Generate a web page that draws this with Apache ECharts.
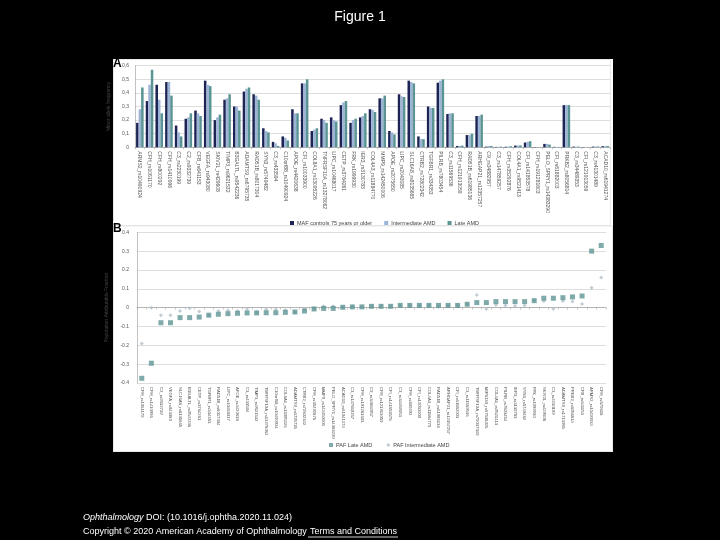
<!DOCTYPE html>
<html>
<head>
<meta charset="utf-8">
<title>Figure 1</title>
<script src="https://cdn.jsdelivr.net/npm/echarts@6/dist/echarts.min.js"></script>
<style>
html, body { margin: 0; padding: 0; background: #000; }
#container { width: 720px; height: 540px; }
</style>
</head>
<body>
<div id="container"></div>
<script>
// panel A: minor allele frequency per SNP
var snpA = ['ARMS2_rs10490924', 'CFH_rs1061170', 'CFH_rs800292', 'CFH_rs1410996', 'C3_rs2230199',
    'C2_rs9332739', 'CFB_rs641153', 'VEGFA_rs943080', 'SKIV2L_rs429608', 'TIMP3_rs9621532',
    'B3GALTL_rs9542236', 'ADAMTS9_rs6795735', 'RAD51B_rs8017304', 'SYN3_rs5749482', 'C3_rs433594',
    'C10orf88_rs10490924', 'APOE_rs4420638', 'CFI_rs10033900', 'COL8A1_rs13095226', 'TNFRSF10A_rs13278062',
    'LIPC_rs10468017', 'CETP_rs3764261', 'FRK_rs1999930', 'IER3_rs3130783', 'COL4A3_rs11884770',
    'MMP9_rs142450006', 'APOE_rs2075650', 'LIPC_rs2043085', 'SLC16A8_rs8135665', 'CTRB2_rs72802342',
    'TGFBR1_rs334353', 'PILRB_rs7803454', 'C3_rs11569536', 'CFH_rs121913059', 'RAD51B_rs61985136',
    'ARHGAP21_rs12357257', 'C9_rs34882957', 'C3_rs147859257', 'CFH_rs35292876', 'COL4A1_rs9521413',
    'CFI_rs141853578', 'CFH_rs191281603', 'PELO_SPRY1_rs14383290', 'CFI_rs61882003', 'PRKB2_rs8056814',
    'C3_rs34489353', 'CFI_rs121913059', 'C3_rs41301489', 'ACAD10_rs61941274'];
var mafControls = [0.18, 0.34, 0.46, 0.48, 0.16, 0.21, 0.27, 0.49, 0.20, 0.35,
    0.30, 0.41, 0.39, 0.14, 0.04, 0.08, 0.28, 0.47, 0.12, 0.21,
    0.22, 0.31, 0.18, 0.22, 0.28, 0.36, 0.12, 0.39, 0.49, 0.08,
    0.30, 0.475, 0.245, 0.01, 0.09, 0.23, 0.005, 0.003, 0.004, 0.013,
    0.035, 0.002, 0.025, 0.003, 0.31, 0.005, 0.002, 0.005, 0.008];
var mafIntermediate = [0.28, 0.46, 0.35, 0.48, 0.11, 0.22, 0.25, 0.46, 0.22, 0.36,
    0.30, 0.43, 0.38, 0.12, 0.03, 0.07, 0.25, 0.47, 0.13, 0.20,
    0.20, 0.33, 0.20, 0.23, 0.275, 0.36, 0.11, 0.375, 0.48, 0.06,
    0.29, 0.49, 0.25, 0.01, 0.09, 0.23, 0.01, 0.004, 0.005, 0.013,
    0.04, 0.002, 0.025, 0.003, 0.31, 0.005, 0.002, 0.006, 0.008];
var mafLate = [0.44, 0.57, 0.25, 0.38, 0.08, 0.25, 0.23, 0.45, 0.24, 0.39,
    0.27, 0.44, 0.35, 0.11, 0.01, 0.05, 0.25, 0.50, 0.14, 0.18,
    0.19, 0.34, 0.21, 0.25, 0.26, 0.38, 0.095, 0.37, 0.47, 0.06,
    0.29, 0.50, 0.25, 0.012, 0.10, 0.24, 0.01, 0.005, 0.008, 0.014,
    0.045, 0.002, 0.02, 0.003, 0.31, 0.005, 0.002, 0.006, 0.010];

// panel B: population attributable fraction, sorted
var snpB = ['CFH_rs1061170', 'CFH_rs1410996', 'C2_rs9332739', 'VEGFA_rs943080', 'SLC16A8_rs8135665',
    'B3GALTL_rs9542236', 'CETP_rs3764261', 'TGFBR1_rs334353', 'RAD51B_rs8017304', 'LIPC_rs10468017',
    'APOE_rs4420638', 'C3_rs433594', 'TIMP3_rs9621532', 'TNFRSF10A_rs13278062', 'C10orf88_rs10490924',
    'COL8A1_rs13095226', 'ADAMTS9_rs6795735', 'CTRB2_rs72802342', 'CFH_rs35292876', 'MMP9_rs142450006',
    'PELO_SPRY1_rs14383290', 'ACAD10_rs61941274', 'C3_rs147859257', 'CFH_rs191281603', 'C9_rs34882957',
    'CFH_rs121913059', 'CFI_rs141853578', 'C3_rs34489353', 'CFH_rs800292', 'CFI_rs10033900',
    'COL4A3_rs11884770', 'RAD51B_rs61985136', 'ARHGAP21_rs12357257', 'CFI_rs61882003', 'C3_rs11569536',
    'TNFRSF10A_rs79037040', 'MIR6130_rs67538026', 'COL4A1_rs9521413', 'PILRB_rs7803454', 'IER3_rs3130783',
    'SYN3_rs5749482', 'FRK_rs1999930', 'SKIV2L_rs429608', 'C3_rs2230199', 'ADAMTS9_rs1713985',
    'PRKB2_rs8056814', 'CFB_rs641153', 'ARMS2_rs10490924', 'CFH_rs570618'];
var pafLate = [-0.375, -0.295, -0.08, -0.08, -0.053, -0.053, -0.05, -0.04, -0.035, -0.032,
    -0.03, -0.028, -0.028, -0.027, -0.027, -0.025, -0.023, -0.018, -0.007, -0.004,
    -0.004, 0.002, 0.004, 0.004, 0.007, 0.007, 0.007, 0.012, 0.012, 0.012,
    0.012, 0.012, 0.012, 0.012, 0.018, 0.027, 0.027, 0.032, 0.032, 0.032,
    0.032, 0.037, 0.05, 0.05, 0.053, 0.057, 0.062, 0.30, 0.33];
var pafIntermediate = [-0.19, 0.0, -0.04, -0.04, -0.018, -0.003, -0.02, -0.04, -0.018, -0.014,
    -0.018, -0.007, -0.025, -0.009, -0.009, -0.012, -0.025, -0.007, -0.004, 0.007,
    0.007, 0.002, 0.005, 0.005, 0.007, 0.007, 0.007, 0.012, 0.012, 0.012,
    0.012, 0.003, 0.012, 0.012, 0.018, 0.067, -0.007, 0.014, 0.012, 0.009,
    0.012, 0.039, 0.034, -0.007, 0.035, 0.032, 0.02, 0.106, 0.16];

var dom = document.getElementById('container');
var myChart = echarts.init(dom);

var tickFont = { fontFamily: 'Liberation Sans', fontSize: 5, color: '#555' };
var gridLine = { lineStyle: { color: '#c8c8c8', width: 0.6 } };

var option = {
    backgroundColor: '#000',
    animation: false,
    textStyle: { fontFamily: 'Liberation Sans' },
    graphic: [
        { type: 'rect', z: -10, shape: { x: 113, y: 59, width: 500, height: 393 }, style: { fill: '#fff' } },
        { type: 'rect', z: -9, shape: { x: 113.5, y: 59.5, width: 497, height: 166 }, style: { fill: 'none', stroke: '#d9d9d9', lineWidth: 0.6 } },
        { type: 'rect', z: -9, shape: { x: 113.5, y: 226, width: 499, height: 225.5 }, style: { fill: 'none', stroke: '#d9d9d9', lineWidth: 0.6 } },
        { type: 'text', left: 'center', top: 10, style: { text: 'Figure 1', fill: '#fff', font: '14px "Liberation Sans"' } },
        { type: 'text', x: 113, y: 58, style: { text: 'A', fill: '#000', font: 'bold 12px "Liberation Sans"' } },
        { type: 'text', x: 113, y: 223, style: { text: 'B', fill: '#000', font: 'bold 12px "Liberation Sans"' } },
        { type: 'text', x: 83, y: 513, style: { text: 'Ophthalmology', fill: '#fff', font: 'italic 9px "Liberation Sans"' } },
        { type: 'text', x: 146, y: 513, style: { text: 'DOI: (10.1016/j.ophtha.2020.11.024)', fill: '#fff', font: '9px "Liberation Sans"' } },
        { type: 'text', x: 83, y: 527, style: { text: 'Copyright \u00a9 2020 American Academy of Ophthalmology', fill: '#fff', font: '9px "Liberation Sans"' } },
        { type: 'text', x: 310, y: 527, style: { text: 'Terms and Conditions', fill: '#fff', font: '9px "Liberation Sans"' } },
        { type: 'line', shape: { x1: 308, y1: 537, x2: 398, y2: 537 }, style: { stroke: '#fff', lineWidth: 0.8 } }
    ],
    legend: [{
        left: 285, top: 215,
        itemWidth: 4, itemHeight: 4, itemGap: 12, icon: 'rect',
        textStyle: { fontSize: 5.5, color: '#444', padding: [0, 0, 0, -2] },
        data: ['MAF controls 75 years or older', 'Intermediate AMD', 'Late AMD']
    }, {
        left: 324, top: 437,
        itemWidth: 4, itemHeight: 4, itemGap: 14,
        textStyle: { fontSize: 5.5, color: '#444', padding: [0, 0, 0, -2] },
        data: [{ name: 'PAF Late AMD', icon: 'rect' }, { name: 'PAF Intermediate AMD', icon: 'diamond' }]
    }],
    grid: [
        { left: 135, top: 65.7, width: 475, height: 81.6 },
        { left: 137, top: 232.3, width: 469, height: 150.7 }
    ],
    xAxis: [{
        type: 'category', gridIndex: 0, data: snpA,
        axisLine: { lineStyle: { color: '#999', width: 0.6 } },
        axisTick: { show: true, length: 2, lineStyle: { color: '#999', width: 0.5 } },
        axisLabel: Object.assign({ interval: 0, rotate: -90, margin: 4 }, tickFont)
    }, {
        type: 'category', gridIndex: 1, data: snpB,
        axisLine: { lineStyle: { color: '#999', width: 0.6 } },
        axisTick: { show: true, length: 2, lineStyle: { color: '#999', width: 0.5 } },
        axisLabel: Object.assign({}, tickFont, { interval: 0, rotate: -90, margin: 4, fontSize: 4.2 })
    }],
    yAxis: [{
        type: 'value', gridIndex: 0, min: 0, max: 0.6, interval: 0.1,
        name: 'Minor allele frequency', nameLocation: 'middle', nameGap: 13,
        nameTextStyle: { fontSize: 5, color: '#444' },
        axisLine: { show: true, lineStyle: { color: '#999', width: 0.6 } },
        splitLine: gridLine,
        axisLabel: Object.assign({
            margin: 6,
            formatter: function (v) { return v === 0 ? '0' : v.toFixed(1).replace('.', ','); }
        }, tickFont)
    }, {
        type: 'value', gridIndex: 1, min: -0.4, max: 0.4, interval: 0.1,
        name: 'Population Attributable Fraction', nameLocation: 'middle', nameGap: 14,
        nameTextStyle: { fontSize: 5, color: '#444' },
        axisLine: { show: true, lineStyle: { color: '#999', width: 0.6 } },
        splitLine: gridLine,
        axisLabel: Object.assign({
            margin: 8,
            formatter: function (v) { var r = Math.round(v * 10) / 10; return r === 0 ? '0' : r.toFixed(1); }
        }, tickFont)
    }],
    series: [{
        name: 'MAF controls 75 years or older', type: 'bar',
        xAxisIndex: 0, yAxisIndex: 0, data: mafControls,
        itemStyle: { color: '#1d2453' }, barGap: '0%', barCategoryGap: '22%'
    }, {
        name: 'Intermediate AMD', type: 'bar',
        xAxisIndex: 0, yAxisIndex: 0, data: mafIntermediate,
        itemStyle: { color: '#9cb4d6' }, barGap: '0%', barCategoryGap: '22%'
    }, {
        name: 'Late AMD', type: 'bar',
        xAxisIndex: 0, yAxisIndex: 0, data: mafLate,
        itemStyle: { color: '#5b9494' }, barGap: '0%', barCategoryGap: '22%'
    }, {
        name: 'PAF Late AMD', type: 'scatter',
        xAxisIndex: 1, yAxisIndex: 1, data: pafLate,
        symbol: 'rect', symbolSize: 5, z: 3,
        itemStyle: { color: '#5e9593' }
    }, {
        name: 'PAF Intermediate AMD', type: 'scatter',
        xAxisIndex: 1, yAxisIndex: 1, data: pafIntermediate,
        symbol: 'diamond', symbolSize: 4, z: 2,
        itemStyle: { color: '#b3bfc9' }
    }]
};

myChart.setOption(option);
</script>
</body>
</html>
